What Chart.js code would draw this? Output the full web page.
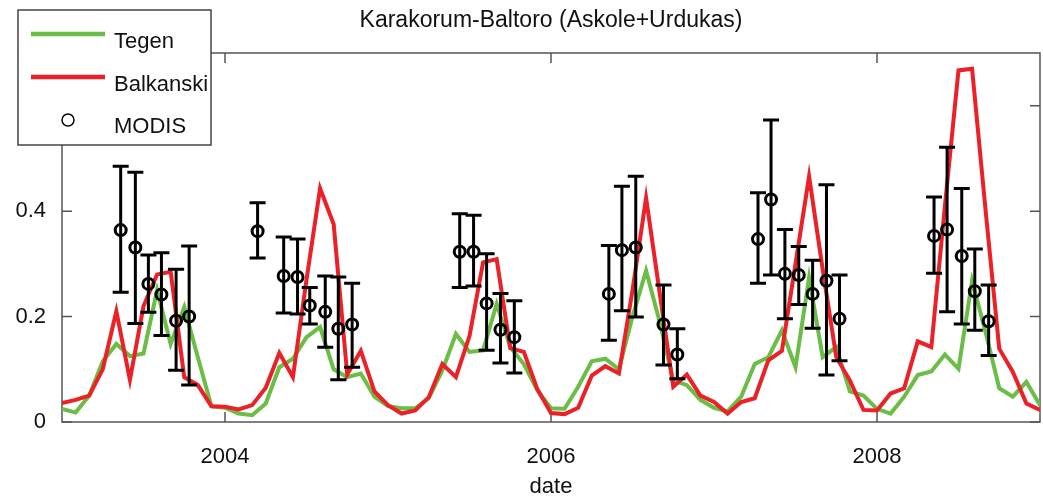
<!DOCTYPE html>
<html>
<head>
<meta charset="utf-8">
<script src="https://cdn.jsdelivr.net/npm/chart.js@4.4.1/dist/chart.umd.min.js"></script>
<style>
  html, body { margin: 0; padding: 0; background: #fff; }
</style>
</head>
<body>
<canvas id="chart" width="1043" height="500"></canvas>
<script>
// monthly model output, Jan 2003 .. Jan 2009
const startYear = 2003;
const tegen = [
  0.025, 0.018, 0.05, 0.115, 0.148, 0.125, 0.13, 0.25, 0.148, 0.218, 0.123, 0.03,
  0.027, 0.016, 0.013, 0.035, 0.104, 0.12, 0.161, 0.18, 0.1, 0.085, 0.092, 0.048,
  0.03, 0.026, 0.026, 0.045, 0.098, 0.167, 0.133, 0.136, 0.224, 0.142, 0.11, 0.06,
  0.026, 0.025, 0.067, 0.115, 0.12, 0.1, 0.2, 0.287, 0.19, 0.079, 0.07, 0.042,
  0.027, 0.02, 0.048, 0.11, 0.123, 0.174, 0.104, 0.274, 0.123, 0.142, 0.058, 0.05,
  0.025, 0.016, 0.048, 0.089, 0.096, 0.128, 0.101, 0.268, 0.17, 0.064, 0.048, 0.076,
  0.032
];
const balkanski = [
  0.036, 0.042, 0.05, 0.10, 0.21, 0.08, 0.22, 0.28, 0.285, 0.085, 0.07, 0.03,
  0.029, 0.024, 0.032, 0.065, 0.131, 0.085, 0.27, 0.443, 0.375, 0.09, 0.135, 0.058,
  0.032, 0.016, 0.022, 0.047, 0.11, 0.085, 0.163, 0.303, 0.309, 0.14, 0.133, 0.062,
  0.017, 0.015, 0.027, 0.088, 0.106, 0.092, 0.25, 0.425, 0.245, 0.067, 0.09, 0.05,
  0.038, 0.016, 0.038, 0.045, 0.117, 0.135, 0.30, 0.466, 0.29, 0.123, 0.079, 0.023,
  0.022, 0.054, 0.064, 0.153, 0.142, 0.41, 0.667, 0.67, 0.40, 0.139, 0.095, 0.035,
  0.023
];

// MODIS observations (decimal year) with error bar ends
const modisX = [
  2003.36, 2003.45, 2003.53, 2003.61, 2003.70, 2003.78,
  2004.20, 2004.36, 2004.445, 2004.52, 2004.615, 2004.695, 2004.78,
  2005.44, 2005.525, 2005.605, 2005.69, 2005.775,
  2006.355, 2006.435, 2006.52, 2006.69, 2006.775,
  2007.27, 2007.35, 2007.435, 2007.52, 2007.605, 2007.69, 2007.77,
  2008.35, 2008.43, 2008.52, 2008.60, 2008.685
];
const modisVal = [
  0.364, 0.331, 0.262, 0.242, 0.192, 0.2,
  0.362, 0.277, 0.275, 0.221, 0.209, 0.177, 0.185,
  0.323, 0.323, 0.225, 0.175, 0.161,
  0.243, 0.326, 0.331, 0.185, 0.128,
  0.347, 0.422, 0.281, 0.279, 0.243, 0.268, 0.196,
  0.353, 0.365, 0.315, 0.248, 0.191
];
const modisLow = [
  0.246, 0.187, 0.208, 0.164, 0.098, 0.07,
  0.311, 0.207, 0.205, 0.186, 0.142, 0.08, 0.104,
  0.255, 0.258, 0.136, 0.112, 0.093,
  0.155, 0.211, 0.199, 0.108, 0.082,
  0.263, 0.279, 0.196, 0.223, 0.178, 0.089, 0.116,
  0.282, 0.209, 0.186, 0.174, 0.126
];
const modisHigh = [
  0.485, 0.474, 0.317, 0.321, 0.29, 0.334,
  0.416, 0.351, 0.347, 0.255, 0.277, 0.275, 0.263,
  0.395, 0.392, 0.319, 0.244, 0.23,
  0.335, 0.447, 0.466, 0.26, 0.177,
  0.435, 0.573, 0.365, 0.333, 0.307, 0.45, 0.279,
  0.427, 0.521, 0.443, 0.328, 0.26
];

const xTicks = [2004, 2006, 2008];
const yTicks = [0, 0.2, 0.4, 0.6];

const FONT = 'Liberation Sans, Arial, Helvetica, sans-serif';
const GREEN = '#6abd45';
const RED = '#ec2027';

const monthX = tegen.map((_, i) => startYear + i / 12);

// matlab-style box with inward ticks
const frame = {
  id: 'frame',
  beforeDatasetsDraw(chart) {
    const { ctx, chartArea: a, scales: { x, y } } = chart;
    ctx.save();
    ctx.strokeStyle = '#555';
    ctx.lineWidth = 1.5;
    ctx.strokeRect(a.left, a.top, a.right - a.left, a.bottom - a.top);
    ctx.beginPath();
    xTicks.forEach(v => {
      const px = x.getPixelForValue(v);
      ctx.moveTo(px, a.bottom); ctx.lineTo(px, a.bottom - 10);
      ctx.moveTo(px, a.top); ctx.lineTo(px, a.top + 10);
    });
    yTicks.forEach(v => {
      const py = y.getPixelForValue(v);
      ctx.moveTo(a.left, py); ctx.lineTo(a.left + 10, py);
      ctx.moveTo(a.right, py); ctx.lineTo(a.right - 10, py);
    });
    ctx.stroke();
    ctx.restore();
  }
};

const errorBars = {
  id: 'errorBars',
  afterDatasetsDraw(chart) {
    const { ctx, scales: { x, y } } = chart;
    ctx.save();
    ctx.strokeStyle = '#000';
    ctx.lineWidth = 3;
    modisX.forEach((v, i) => {
      const px = x.getPixelForValue(v);
      const lo = y.getPixelForValue(modisLow[i]);
      const hi = y.getPixelForValue(modisHigh[i]);
      ctx.beginPath();
      ctx.moveTo(px, lo); ctx.lineTo(px, hi);
      ctx.moveTo(px - 8, lo); ctx.lineTo(px + 8, lo);
      ctx.moveTo(px - 8, hi); ctx.lineTo(px + 8, hi);
      ctx.stroke();
    });
    ctx.restore();
  }
};

const legendBox = {
  id: 'legendBox',
  afterDraw(chart) {
    const ctx = chart.ctx;
    ctx.save();
    ctx.fillStyle = '#fff';
    ctx.fillRect(18, 10, 193, 135);
    ctx.strokeStyle = '#444';
    ctx.lineWidth = 1.5;
    ctx.strokeRect(18, 10, 193, 135);
    ctx.font = '22px ' + FONT;
    ctx.fillStyle = '#111';
    ctx.textBaseline = 'alphabetic';
    const items = [
      { name: 'Tegen', color: GREEN, y: 34, base: 48 },
      { name: 'Balkanski', color: RED, y: 77, base: 91 },
      { name: 'MODIS', color: null, y: 120, base: 133 }
    ];
    items.forEach(it => {
      if (it.color) {
        ctx.strokeStyle = it.color;
        ctx.lineWidth = 4.5;
        ctx.beginPath(); ctx.moveTo(31, it.y); ctx.lineTo(105, it.y); ctx.stroke();
      } else {
        ctx.strokeStyle = '#000';
        ctx.lineWidth = 1.5;
        ctx.beginPath(); ctx.arc(68, it.y, 6, 0, Math.PI * 2); ctx.stroke();
      }
      ctx.fillText(it.name, 114, it.base);
    });
    ctx.restore();
  }
};

new Chart(document.getElementById('chart').getContext('2d'), {
  type: 'line',
  data: {
    datasets: [
      { label: 'MODIS', data: modisX.map((x, i) => ({ x, y: modisVal[i] })), showLine: false,
        pointStyle: 'circle', pointRadius: 5.5, pointBorderWidth: 3, pointBorderColor: '#000',
        pointBackgroundColor: 'rgba(0,0,0,0)', order: 1 },
      { label: 'Balkanski', data: monthX.map((x, i) => ({ x, y: balkanski[i] })), borderColor: RED,
        borderWidth: 4, pointRadius: 0, tension: 0, fill: false, order: 2 },
      { label: 'Tegen', data: monthX.map((x, i) => ({ x, y: tegen[i] })), borderColor: GREEN,
        borderWidth: 4, pointRadius: 0, tension: 0, fill: false, order: 3 }
    ]
  },
  options: {
    responsive: false,
    animation: false,
    events: [],
    layout: { autoPadding: false, padding: { left: 0, right: 3, top: 0, bottom: 0 } },
    plugins: {
      legend: { display: false },
      tooltip: { enabled: false },
      title: { display: true, fullSize: false, text: 'Karakorum-Baltoro (Askole+Urdukas)', color: '#111',
        font: { size: 23, family: FONT, weight: 'normal' }, padding: { top: 7, bottom: 18.4 } }
    },
    scales: {
      x: {
        type: 'linear', min: 2003, max: 2009,
        afterBuildTicks: s => { s.ticks = xTicks.map(v => ({ value: v })); },
        afterFit: s => { s.height = 78; s.paddingLeft = 0; s.paddingRight = 0; },
        grid: { display: false }, border: { display: false },
        ticks: { color: '#111', font: { size: 22, family: FONT }, padding: 14, maxRotation: 0,
          callback: v => String(v) },
        title: { display: true, text: 'date', color: '#111', font: { size: 22, family: FONT },
          padding: { top: 0, bottom: 0 } }
      },
      y: {
        min: 0, max: 0.7,
        afterBuildTicks: s => { s.ticks = yTicks.map(v => ({ value: v })); },
        afterFit: s => { s.width = 62; },
        grid: { display: false }, border: { display: false },
        // the 0.6 label sits under the legend box in the original
        ticks: { color: '#111', font: { size: 22, family: FONT }, padding: 8,
          callback: v => (v > 0.5 ? '' : String(v)) }
      }
    }
  },
  plugins: [frame, errorBars, legendBox]
});
</script>
</body>
</html>
